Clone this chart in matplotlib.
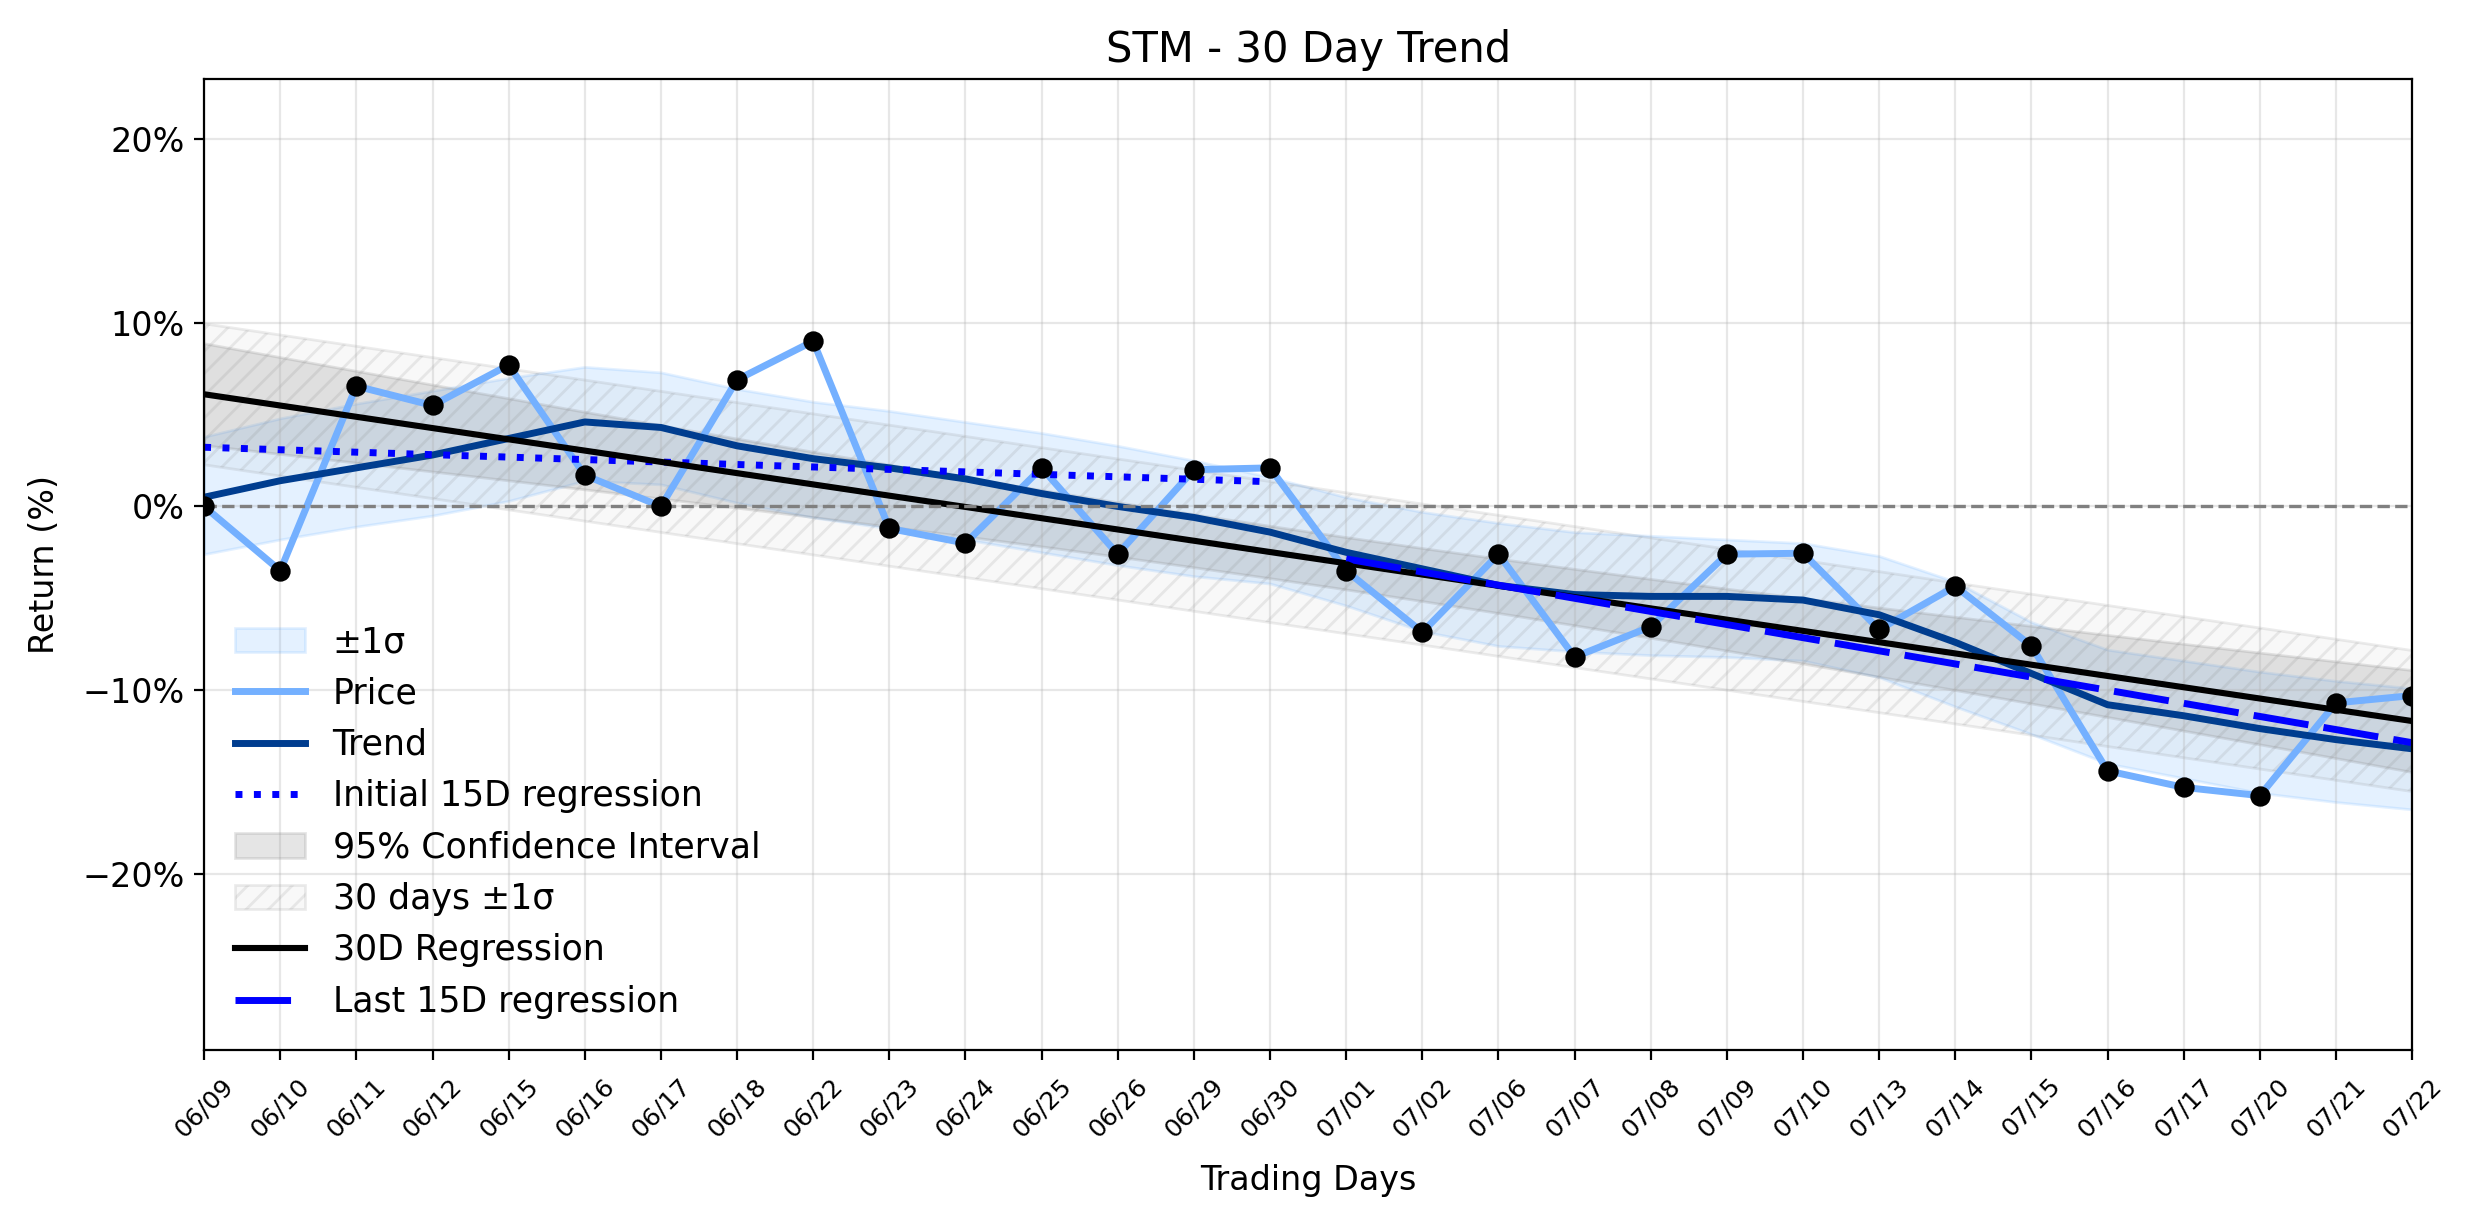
import numpy as np
import matplotlib
matplotlib.use("Agg")
import matplotlib.pyplot as plt
from matplotlib.ticker import PercentFormatter

# trading days shown on the x axis
dates = ["06/09", "06/10", "06/11", "06/12", "06/15", "06/16", "06/17", "06/18",
         "06/22", "06/23", "06/24", "06/25", "06/26", "06/29", "06/30", "07/01",
         "07/02", "07/06", "07/07", "07/08", "07/09", "07/10", "07/13", "07/14",
         "07/15", "07/16", "07/17", "07/20", "07/21", "07/22"]

# cumulative return (%)
price_ret = [0.0, -3.5, 6.55, 5.5, 7.7, 1.7, 0.0, 6.9, 9.0, -1.2,
             -2.0, 2.1, -2.6, 2.0, 2.1, -3.5, -6.85, -2.6, -8.2, -6.55,
             -2.6, -2.55, -6.7, -4.35, -7.6, -14.4, -15.3, -15.75, -10.7, -10.3]

# smoothed trend and its +/-1 sigma band
trend = [0.5, 1.4, 2.1, 2.8, 3.7, 4.6, 4.3, 3.3, 2.6, 2.1,
         1.5, 0.7, 0.0, -0.6, -1.4, -2.5, -3.4, -4.3, -4.8, -4.9,
         -4.9, -5.1, -5.9, -7.4, -9.1, -10.8, -11.4, -12.1, -12.7, -13.2]
band_upper = [3.8, 4.8, 5.6, 6.3, 7.0, 7.6, 7.3, 6.4, 5.7, 5.2,
              4.6, 4.0, 3.3, 2.5, 1.6, 0.5, -0.3, -0.9, -1.4, -1.6,
              -1.8, -2.0, -2.7, -4.1, -6.3, -7.8, -8.4, -9.0, -9.5, -9.9]
band_lower = [-2.6, -1.8, -1.1, -0.5, 0.3, 1.4, 1.2, 0.2, -0.6, -1.2,
              -1.8, -2.5, -3.2, -3.8, -4.2, -5.4, -6.8, -7.6, -7.9, -8.1,
              -8.2, -8.4, -9.3, -10.9, -12.4, -14.0, -14.8, -15.6, -16.1, -16.5]

plt.rcParams["font.size"] = 12

x = np.arange(len(dates))
price = np.array(price_ret)


def linfit(xs, ys):
    slope, icpt = np.polyfit(xs, ys, 1)
    return icpt + slope * xs


# 30 day regression, residual std and 95% confidence band
reg30 = linfit(x, price)
resid = price - reg30
sd = resid.std()
n = len(x)
se = np.sqrt(np.sum(resid ** 2) / (n - 2))
xm = x.mean()
ci = 1.96 * se * np.sqrt(1 / n + (x - xm) ** 2 / np.sum((x - xm) ** 2))

half = 15
reg_first = linfit(x[:half], price[:half])
reg_last = linfit(x[half:], price[half:])

fig = plt.figure(figsize=(12.37, 6.12), dpi=200)
ax = fig.add_axes([0.0825, 0.1422, 0.8925, 0.7936])

ax.fill_between(x, band_lower, band_upper, color="#4da3ff", alpha=0.15, label="±1σ")
ax.plot(x, price, color="#74b0ff", lw=2.5, label="Price")
ax.scatter(x, price, color="black", s=40, zorder=5)
ax.plot(x, trend, color="#003d8f", lw=2.5, label="Trend")
ax.plot(x[:half], reg_first, color="blue", ls=":", lw=2.5, label="Initial 15D regression")
ax.fill_between(x, reg30 - ci, reg30 + ci, color="gray", alpha=0.2,
                label="95% Confidence Interval")
ax.fill_between(x, reg30 - sd, reg30 + sd, facecolor=(0.5, 0.5, 0.5, 0.05),
                edgecolor=(0.5, 0.5, 0.5, 0.15), hatch="///", lw=1,
                label="30 days ±1σ")
ax.plot(x, reg30, color="black", lw=2.2, label="30D Regression")
ax.plot(x[half:], reg_last, color="blue", ls=(0, (8, 2.2)), lw=2.5,
        label="Last 15D regression")
ax.axhline(0, color="gray", ls="--", lw=1.2)

ax.set_xlim(0, len(x) - 1)
ax.set_ylim(-29.6, 23.3)
ax.set_yticks([-20, -10, 0, 10, 20])
ax.yaxis.set_major_formatter(PercentFormatter(decimals=0))
ax.set_xticks(x)
ax.set_xticklabels(dates, rotation=45, fontsize=9)
ax.tick_params(axis="x", pad=5)
ax.grid(True, alpha=0.3)

ax.set_title("STM - 30 Day Trend", fontsize=15)
ax.set_xlabel("Trading Days", labelpad=8)
ax.set_ylabel("Return (%)", labelpad=7.5)
ax.legend(loc="lower left", frameon=False, fontsize=12.5)

fig.savefig("out.png", dpi=200)
